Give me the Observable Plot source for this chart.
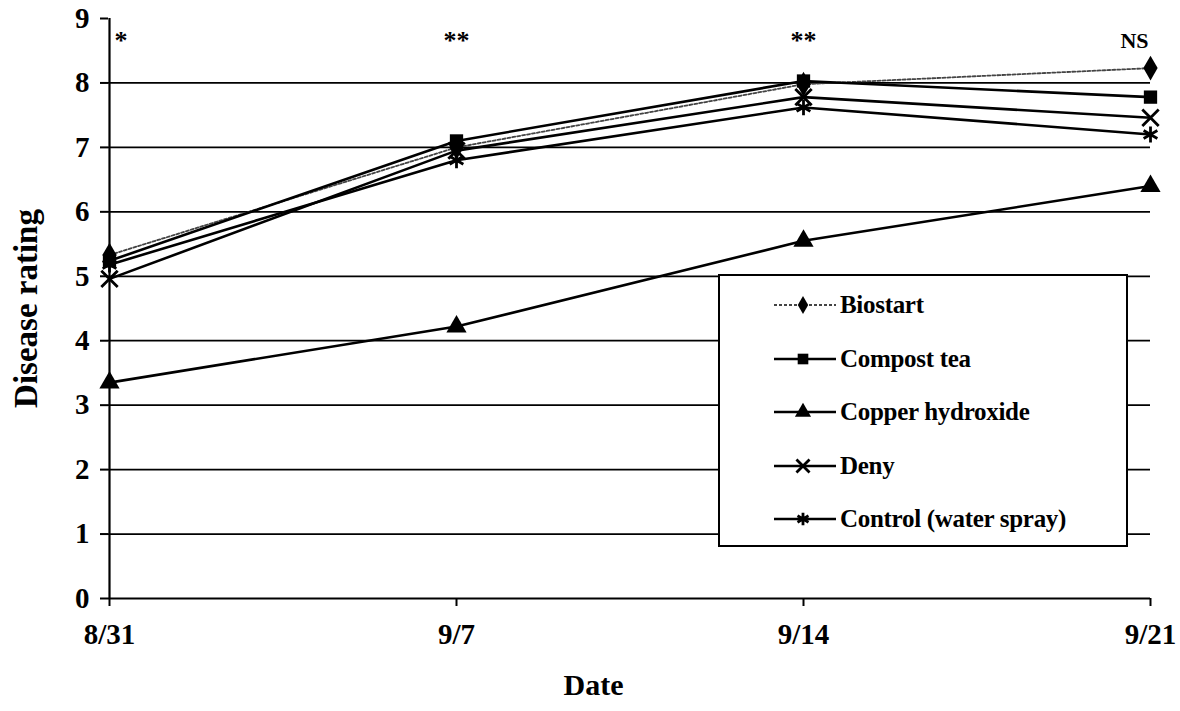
<!DOCTYPE html>
<html><head><meta charset="utf-8">
<script src="https://cdn.jsdelivr.net/npm/d3@7"></script>
<script src="https://cdn.jsdelivr.net/npm/@observablehq/plot@0.6"></script>
<style>
body{margin:0;background:#fff;font-family:"Liberation Serif",serif;}
#wrap{position:relative;width:1180px;height:711px;}
#legend{position:absolute;left:718px;top:274px;width:410px;height:273px;border:2px solid #000;background:#fff;box-sizing:border-box;}
.entry{position:absolute;left:52px;height:30px;display:flex;align-items:center;font:bold 25px "Liberation Serif",serif;color:#000;letter-spacing:-0.3px;}
.entry svg{margin-right:2px;}
</style></head>
<body><div id="wrap"></div>
<script>
const dates = ["8/31", "9/7", "9/14", "9/21"];
const seriesNames = ["Biostart", "Compost tea", "Copper hydroxide", "Deny", "Control (water spray)"];
const biostart = [5.33, 7.0, 7.98, 8.23];
const compostTea = [5.24, 7.1, 8.03, 7.78];
const copperHydroxide = [3.35, 4.22, 5.55, 6.4];
const deny = [4.96, 6.95, 7.78, 7.46];
const control = [5.18, 6.8, 7.62, 7.2];
const significance = ["*", "**", "**", "NS"];
const yTicks = [0, 1, 2, 3, 4, 5, 6, 7, 8, 9];

const symbols = ["diamond", "square", "triangle", "times", "asterisk"];
const values = [biostart, compostTea, copperHydroxide, deny, control];
const rows = [];
seriesNames.forEach((s, i) => dates.forEach((d, j) => rows.push({series: s, date: d, value: values[i][j], sym: symbols[i]})));
const sigRows = dates.map((d, i) => ({date: d, label: significance[i], y: 8.66}));

const font = "Liberation Serif";
const open = s => s === "times" || s === "asterisk";
const plot = Plot.plot({
  width: 1180, height: 711,
  marginTop: 18, marginBottom: 113, marginLeft: 108, marginRight: 30,
  style: {fontFamily: font, fontWeight: "bold", background: "#fff", color: "#000"},
  x: {type: "point", domain: dates, padding: 0, label: null},
  y: {domain: [0, 9], label: null},
  marks: [
    Plot.ruleY(yTicks.filter(t => t > 0 && t < 9), {stroke: "#000", strokeWidth: 1.8}),
    Plot.ruleY([0], {stroke: "#000", strokeWidth: 2.2}),
    Plot.ruleX([dates[0]], {y1: 0, y2: 9, stroke: "#000", strokeWidth: 2.2}),
    Plot.axisY({ticks: yTicks, tickSize: 8, tickPadding: 11, fontSize: 29, fontWeight: "bold", tickFormat: d => d, strokeWidth: 2}),
    Plot.axisX({tickSize: 8, tickPadding: 17, fontSize: 29, fontWeight: "bold", strokeWidth: 2}),
    Plot.text(["Date"], {frameAnchor: "bottom", dx: -36, dy: 96, fontSize: 30, fontWeight: "bold"}),
    Plot.text(["Disease rating"], {frameAnchor: "left", textAnchor: "middle", dx: -82, rotate: -90, fontSize: 33, fontWeight: "bold"}),
    Plot.line(rows.filter(r => r.series === seriesNames[0]), {x: "date", y: "value", stroke: "#444", strokeWidth: 1.8, strokeDasharray: "3,2"}),
    Plot.line(rows.filter(r => r.series !== seriesNames[0]), {x: "date", y: "value", z: "series", stroke: "#000", strokeWidth: 2.6}),
    Plot.dot(rows, {x: "date", y: "value", symbol: "sym", r: 7.5, fill: d => open(d.sym) ? "none" : "#000", stroke: "#000", strokeWidth: d => open(d.sym) ? 2.8 : 0}),
    Plot.text(sigRows.slice(0, 1), {x: "date", y: "y", text: "label", textAnchor: "start", dx: 5, fontSize: 26, fontWeight: "bold"}),
    Plot.text(sigRows.slice(1, 3), {x: "date", y: "y", text: "label", fontSize: 26, fontWeight: "bold"}),
    Plot.text(sigRows.slice(3), {x: "date", y: "y", text: "label", textAnchor: "end", dx: -2, dy: 1, fontSize: 22, fontWeight: "bold"})
  ]
});
plot.style.display = "block";
const wrap = document.getElementById("wrap");
wrap.appendChild(plot);

// legend
const legend = document.createElement("div");
legend.id = "legend";
const symMap = {diamond: d3.symbolDiamond, square: d3.symbolSquare, triangle: d3.symbolTriangle, times: d3.symbolTimes, asterisk: d3.symbolAsterisk};
seriesNames.forEach((s, i) => {
  const e = document.createElement("div");
  e.className = "entry";
  e.style.top = (14 + i * 53.5) + "px";
  const svg = d3.create("svg").attr("width", 66).attr("height", 30);
  const dashed = i === 0;
  svg.append("line").attr("x1", 2).attr("x2", 64).attr("y1", 15).attr("y2", 15)
    .attr("stroke", dashed ? "#444" : "#000").attr("stroke-width", dashed ? 1.8 : 2.6)
    .attr("stroke-dasharray", dashed ? "3,2" : null);
  const sym = symbols[i];
  svg.append("path").attr("transform", "translate(31,15)")
    .attr("d", d3.symbol(symMap[sym], Math.PI * (i === 0 ? 30 : 36))())
    .attr("fill", open(sym) ? "none" : "#000").attr("stroke", "#000").attr("stroke-width", open(sym) ? 2.8 : 0);
  e.appendChild(svg.node());
  const t = document.createElement("span");
  t.textContent = s;
  e.appendChild(t);
  legend.appendChild(e);
});
wrap.appendChild(legend);
</script>
</body></html>
